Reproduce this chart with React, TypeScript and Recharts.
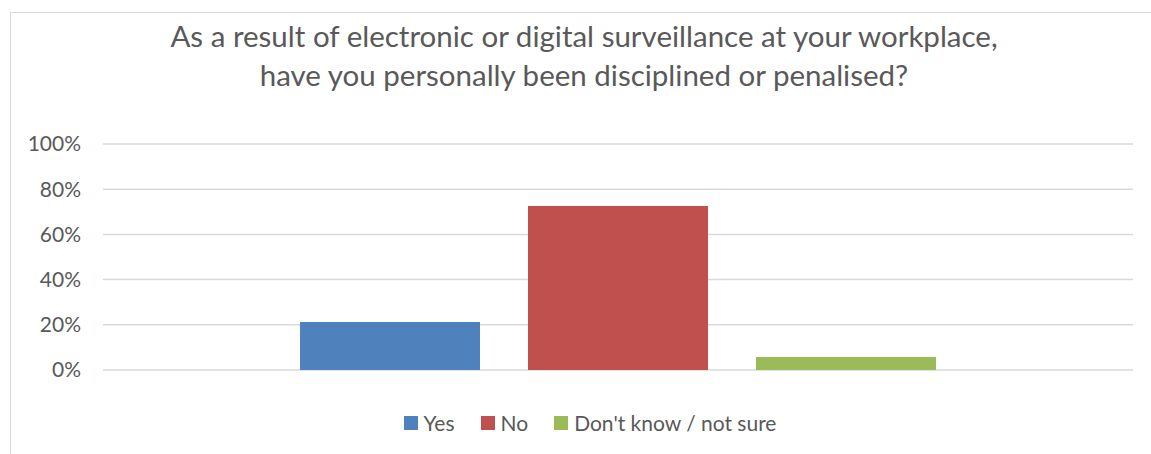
import { BarChart, Bar, XAxis, YAxis, CartesianGrid } from "recharts";

const CATEGORIES = ["Personally disciplined or penalised"];
const SERIES_NAMES = ["Yes", "No", "Don't know / not sure"];
const SERIES_KEYS = ["yes", "no", "dontKnow"];
const SERIES_VALUES = [0.212, 0.726, 0.058];
const SERIES_COLORS = ["#4f81bd", "#c0504d", "#9bbb59"];
const Y_TICKS = [0, 0.2, 0.4, 0.6, 0.8, 1];

const TITLE_LINES = [
  "As a result of electronic or digital surveillance at your workplace,",
  "have you personally been disciplined or penalised?",
];

const FONT = "Lato, 'Open Sans', sans-serif";
const TEXT_COLOR = "#595959";

const data = CATEGORIES.map((name) => {
  const row: Record<string, number | string> = { name };
  SERIES_KEYS.forEach((key, i) => {
    row[key] = SERIES_VALUES[i];
  });
  return row;
});

function ChartLegend() {
  return (
    <div
      style={{
        position: "absolute",
        left: 0,
        top: 410,
        width: 1180,
        display: "flex",
        justifyContent: "center",
        fontFamily: FONT,
        fontSize: 21,
        lineHeight: "26px",
        color: TEXT_COLOR,
      }}
    >
      {SERIES_NAMES.map((name, i) => (
        <div
          key={name}
          style={{ display: "flex", alignItems: "center", marginRight: i < SERIES_NAMES.length - 1 ? 26 : 0 }}
        >
          <span
            style={{ width: 14, height: 14, background: SERIES_COLORS[i], marginRight: 6, display: "inline-block" }}
          />
          <span>{name}</span>
        </div>
      ))}
    </div>
  );
}

export default function App() {
  return (
    <div style={{ position: "absolute", left: 0, top: 0, width: 1151, height: 454, background: "#fff", overflow: "hidden" }}>
      <div
        style={{
          position: "absolute",
          left: 10,
          top: 12,
          width: 1160,
          height: 460,
          borderLeft: "1px solid #d9d9d9",
          borderTop: "1px solid #d9d9d9",
        }}
      />
      <div
        style={{
          position: "absolute",
          left: 0,
          top: 16,
          width: 1168,
          textAlign: "center",
          fontFamily: FONT,
          fontSize: 29.5,
          lineHeight: "39px",
          color: TEXT_COLOR,
        }}
      >
        {TITLE_LINES.map((line) => (
          <div key={line}>{line}</div>
        ))}
      </div>
      <div style={{ position: "absolute", left: 0, top: 0 }}>
        <BarChart
          width={1151}
          height={454}
          data={data}
          margin={{ top: 144, right: 18, bottom: 84, left: 0 }}
          barSize={180}
          barGap={48}
        >
          <CartesianGrid horizontal vertical={false} stroke="#d9d9d9" strokeWidth={1.5} />
          <XAxis dataKey="name" hide />
          <YAxis
            width={103}
            domain={[0, 1]}
            ticks={Y_TICKS}
            tickFormatter={(v: number) => `${Math.round(v * 100)}%`}
            axisLine={false}
            tickLine={false}
            tickSize={0}
            tickMargin={22}
            tick={{ fill: TEXT_COLOR, fontSize: 21, fontFamily: FONT }}
            interval={0}
          />
          {SERIES_KEYS.map((key, i) => (
            <Bar key={key} dataKey={key} name={SERIES_NAMES[i]} fill={SERIES_COLORS[i]} isAnimationActive={false} />
          ))}
        </BarChart>
      </div>
      <ChartLegend />
    </div>
  );
}
